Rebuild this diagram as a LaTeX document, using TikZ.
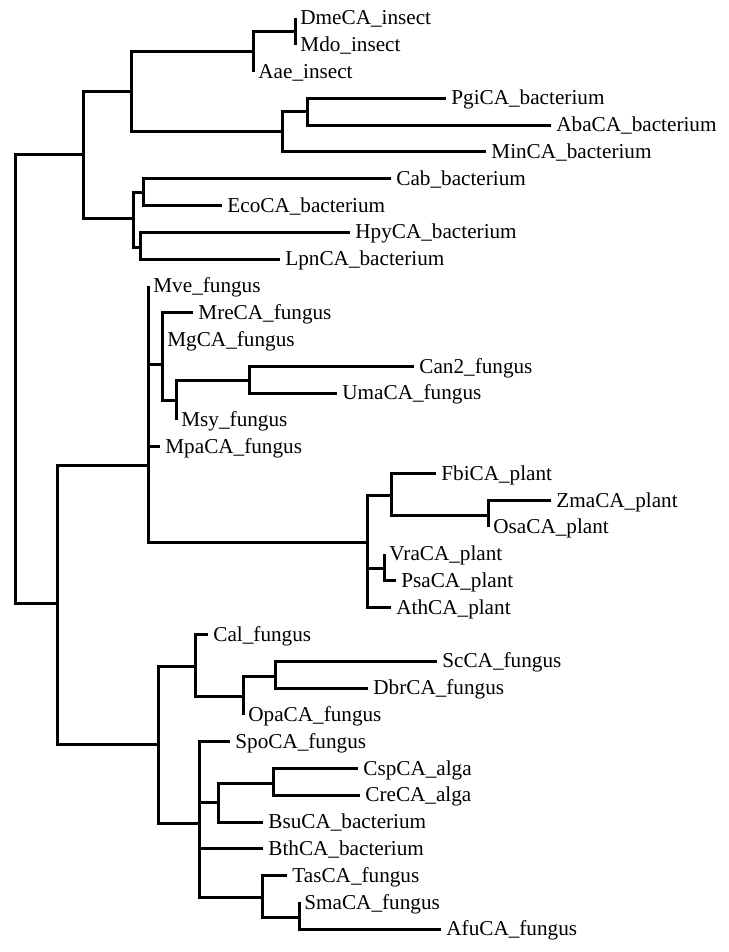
\documentclass[tikz,border=0pt]{standalone}
\usepackage{fontspec}
\setmainfont{Liberation Serif}
\begin{document}
\begin{tikzpicture}[x=0.5pt,y=-0.5pt,
		branch/.style={line width=1.5pt,line join=miter},
		taxon/.style={anchor=west,inner sep=2.5pt,text height=0.66em,text depth=0pt,font=\fontsize{10.6}{12}\selectfont}]
		\useasboundingbox (0,0) rectangle (728,952);
		% inner nodes of the tree
		\coordinate (root) at (15,379);
		\coordinate (top) at (83,155);
		\coordinate (ib) at (131,92);
		\coordinate (ins) at (253,52);
		\coordinate (dm) at (295,32);
		\coordinate (bac) at (282,132);
		\coordinate (pa) at (307,112);
		\coordinate (cb) at (133,219);
		\coordinate (ce) at (143,193);
		\coordinate (hl) at (140,247);
		\coordinate (bot) at (57,603);
		\coordinate (fp) at (148,465);
		\coordinate (mg) at (162,364);
		\coordinate (ms) at (176,400);
		\coordinate (cu) at (249,380);
		\coordinate (pl) at (367,542);
		\coordinate (fz) at (391,495);
		\coordinate (zo) at (488,515);
		\coordinate (vp) at (384,568);
		\coordinate (rest) at (158,744);
		\coordinate (co) at (195,666);
		\coordinate (sdo) at (243,696);
		\coordinate (sd) at (275,676);
		\coordinate (sp) at (199,823);
		\coordinate (ccb) at (218,802);
		\coordinate (cc) at (273,783);
		\coordinate (tsa) at (262,897);
		\coordinate (sa) at (299,917);
		% leaves
		\foreach \n/\px/\i/\t in {dme/295/1/DmeCA\_insect, mdo/295/2/Mdo\_insect, aae/253/3/Aae\_insect,
			pgi/446/4/PgiCA\_bacterium, aba/551/5/AbaCA\_bacterium, min/486/6/MinCA\_bacterium,
			cab/391/7/Cab\_bacterium, eco/222/8/EcoCA\_bacterium, hpy/350/9/HpyCA\_bacterium,
			lpn/280/10/LpnCA\_bacterium, mve/148/11/Mve\_fungus, mre/193/12/MreCA\_fungus,
			mgca/162/13/MgCA\_fungus, can/414/14/Can2\_fungus, uma/337/15/UmaCA\_fungus,
			msy/176/16/Msy\_fungus, mpa/160/17/MpaCA\_fungus, fbi/436/18/FbiCA\_plant,
			zma/551/19/ZmaCA\_plant, osa/488/20/OsaCA\_plant, vra/384/21/VraCA\_plant,
			psa/396/22/PsaCA\_plant, ath/391/23/AthCA\_plant, cal/208/24/Cal\_fungus,
			sc/437/25/ScCA\_fungus, dbr/368/26/DbrCA\_fungus, opa/243/27/OpaCA\_fungus,
			spo/230/28/SpoCA\_fungus, csp/358/29/CspCA\_alga, cre/360/30/CreCA\_alga,
			bsu/263/31/BsuCA\_bacterium, bth/263/32/BthCA\_bacterium, tas/287/33/TasCA\_fungus,
			sma/299/34/SmaCA\_fungus, afu/441/35/AfuCA\_fungus}
			\node[taxon] (\n) at (\px,{18+26.8*(\i-1)}) {\t};
		% branches
		\foreach \a/\b in {root/top, root/bot, top/ib, top/cb, ib/ins, ib/bac, ins/dm, bac/pa,
			cb/ce, cb/hl, bot/fp, bot/rest, fp/mg, fp/pl, mg/ms, ms/cu, pl/fz, pl/vp, fz/zo,
			rest/co, rest/sp, co/sdo, sdo/sd, sp/ccb, sp/tsa, ccb/cc, tsa/sa}
			\draw[branch] (\a) |- (\b);
		\foreach \a/\b in {dm/dme, dm/mdo, ins/aae, pa/pgi, pa/aba, bac/min, ce/cab, ce/eco,
			hl/hpy, hl/lpn, fp/mve, mg/mre, mg/mgca, cu/can, cu/uma, ms/msy, fp/mpa, fz/fbi,
			zo/zma, zo/osa, vp/vra, vp/psa, pl/ath, co/cal, sd/sc, sd/dbr, sdo/opa, sp/spo,
			cc/csp, cc/cre, ccb/bsu, sp/bth, tsa/tas, sa/sma, sa/afu}
			\draw[branch] (\a) |- (\b.west);
	\end{tikzpicture}
\end{document}
